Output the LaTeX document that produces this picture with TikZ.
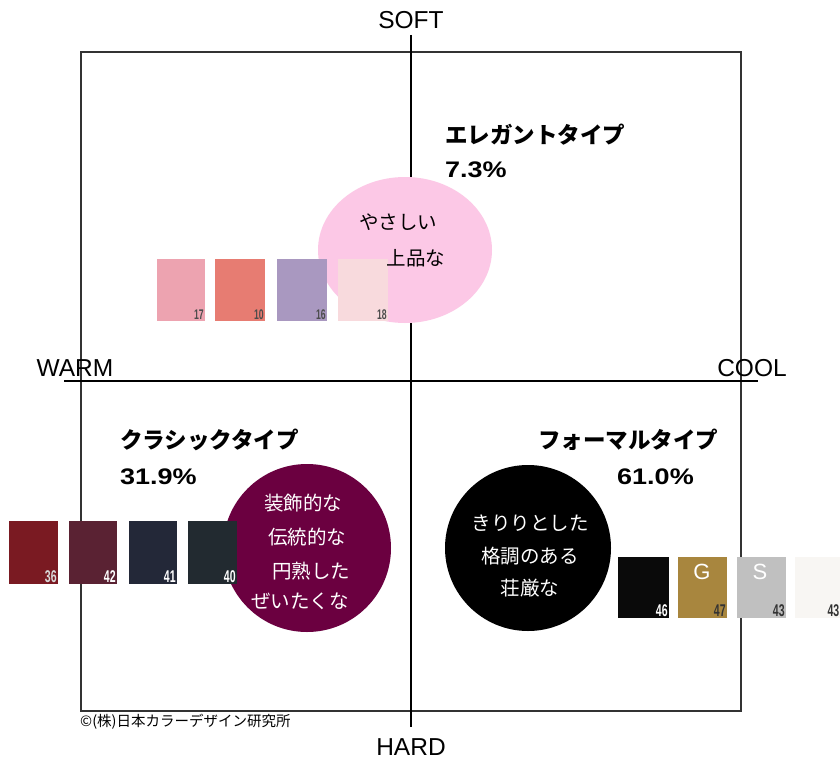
\documentclass[tikz,border=0pt]{standalone}
\usepackage{fontspec}
\setmainfont{Liberation Sans}
\newfontfamily\jp{Noto Sans CJK JP}
\newfontfamily\pct[FakeStretch=1.2]{Liberation Sans}
\newfontfamily\numf[FakeStretch=0.62]{Liberation Sans}
\usetikzlibrary{shapes.geometric}
\definecolor{sw17}{HTML}{EDA3B0}
\definecolor{sw10}{HTML}{E77C72}
\definecolor{sw16}{HTML}{A998C0}
\definecolor{sw18}{HTML}{F8DADD}
\definecolor{sw36}{HTML}{7A1A22}
\definecolor{sw42}{HTML}{5A2233}
\definecolor{sw41}{HTML}{232838}
\definecolor{sw40}{HTML}{222A30}
\definecolor{sw46}{HTML}{0A0A0A}
\definecolor{sw47}{HTML}{A8863E}
\definecolor{swS}{HTML}{C0C0C0}
\definecolor{sw43}{HTML}{F8F6F3}
\definecolor{pinkE}{HTML}{FCC8E6}
\definecolor{maroonC}{HTML}{6B0040}
\tikzset{
  framebox/.style={draw=black!80, line width=2pt},
  axisline/.style={draw=black, line width=1.6pt},
  axlabel/.style={font=\fontsize{24.5}{24.5}\selectfont, inner sep=0pt},
  ttl/.style={font=\jp\bfseries\fontsize{22.5}{22.5}\selectfont, anchor=west, inner sep=0pt},
  pcnt/.style={font=\pct\bfseries\fontsize{22.5}{22.5}\selectfont, anchor=west, inner sep=0pt},
  body/.style={font=\jp\fontsize{19.5}{19.5}\selectfont, inner sep=0pt},
  swatch/.style={anchor=north west, inner sep=0pt, minimum width=#1, minimum height=62},
  swnum/.style={font=\numf\bfseries\fontsize{17}{17}\selectfont, anchor=south east, inner sep=1.5pt},
  swnums/.style={font=\numf\bfseries\fontsize{14}{14}\selectfont, anchor=south east, inner sep=1.5pt},
  swletter/.style={font=\fontsize{22}{22}\selectfont, text=white, inner sep=0pt},
}
\begin{document}
\begin{tikzpicture}[x=1pt,y=-1pt]
\useasboundingbox (0,0) rectangle (840,760);
\fill[white] (0,0) rectangle (840,760);
% frame and axes
\draw[framebox] (81,52) rectangle (741,711);
\coordinate (vt) at (411,35);
\coordinate (vb) at (411,727);
\coordinate (hl) at (64,381);
\coordinate (hr) at (758,381);
\draw[axisline] (vt) -- (vb);
\draw[axisline] (hl) -- (hr);
\node[axlabel] (soft) at (411,20) {SOFT};
\node[axlabel] (hard) at (411,747) {HARD};
\node[axlabel] (warm) at (75,368) {WARM};
\node[axlabel] (cool) at (752,368) {COOL};
% shapes
\node[ellipse, fill=pinkE, minimum width=174, minimum height=146, inner sep=0pt] (elegE) at (405,250) {};
\node[circle, fill=maroonC, minimum size=168, inner sep=0pt] (clasC) at (307,548) {};
\node[circle, fill=black, minimum size=166, inner sep=0pt] (formC) at (528,548) {};
% elegant swatches
\node[swatch=48, fill=sw17] (s17) at (157,259) {};
\node[swatch=50, fill=sw10] (s10) at (215,259) {};
\node[swatch=50, fill=sw16] (s16) at (277,259) {};
\node[swatch=50, fill=sw18] (s18) at (338,259) {};
\node[swnums, text=black!70] (n17) at (s17.south east) {17};
\node[swnums, text=black!70] (n10) at (s10.south east) {10};
\node[swnums, text=black!70] (n16) at (s16.south east) {16};
\node[swnums, text=black!70] (n18) at (s18.south east) {18};
% classic swatches
\node[swatch=49, minimum height=63, fill=sw36] (s36) at (9,521) {};
\node[swatch=48, minimum height=63, fill=sw42] (s42) at (69,521) {};
\node[swatch=48, minimum height=63, fill=sw41] (s41) at (129,521) {};
\node[swatch=49, minimum height=63, fill=sw40] (s40) at (188,521) {};
\node[swnum, text=white!85!black] (n36) at (s36.south east) {36};
\node[swnum, text=white] (n42) at (s42.south east) {42};
\node[swnum, text=white] (n41) at (s41.south east) {41};
\node[swnum, text=white] (n40) at (s40.south east) {40};
% formal swatches
\node[swatch=51, minimum height=61, fill=sw46] (s46) at (618,557) {};
\node[swatch=49, minimum height=61, fill=sw47] (s47) at (678,557) {};
\node[swatch=49, minimum height=61, fill=swS] (sS) at (737,557) {};
\node[swatch=50, minimum height=61, fill=sw43] (s43) at (795,557) {};
\coordinate (n43pos) at (841,618);
\node[swnum, text=white] (n46) at (s46.south east) {46};
\node[swnum, text=black!80] (n47) at (s47.south east) {47};
\node[swnum, text=black!80] (n43a) at (sS.south east) {43};
\node[swnum, text=black!80] (n43b) at (n43pos) {43};
\node[swletter] (lg) at (702,572) {G};
\node[swletter] (ls) at (760,572) {S};
% titles
\node[ttl] (t1) at (445,135) {エレガントタイプ};
\node[pcnt] (p1) at (445,170) {7.3\%};
\node[ttl] (t2) at (120,440) {クラシックタイプ};
\node[pcnt] (p2) at (120,477) {31.9\%};
\node[ttl] (t3) at (538,440) {フォーマルタイプ};
\node[pcnt] (p3) at (617,477) {61.0\%};
% body texts
\node[body] (e1) at (398,222) {やさしい};
\node[body] (e2) at (416,258) {上品な};
\node[body, text=white] (c1) at (303,503) {装飾的な};
\node[body, text=white] (c2) at (307,537) {伝統的な};
\node[body, text=white] (c3) at (311,571) {円熟した};
\node[body, text=white] (c4) at (300,601) {ぜいたくな};
\node[body, text=white] (f1) at (530,523) {きりりとした};
\node[body, text=white] (f2) at (530,556) {格調のある};
\node[body, text=white] (f3) at (530,588) {荘厳な};
% copyright
\node[font=\jp\fontsize{14.5}{14.5}\selectfont, anchor=west, inner sep=0pt] (copy) at (80,722) {©(株)日本カラーデザイン研究所};
\end{tikzpicture}
\end{document}
